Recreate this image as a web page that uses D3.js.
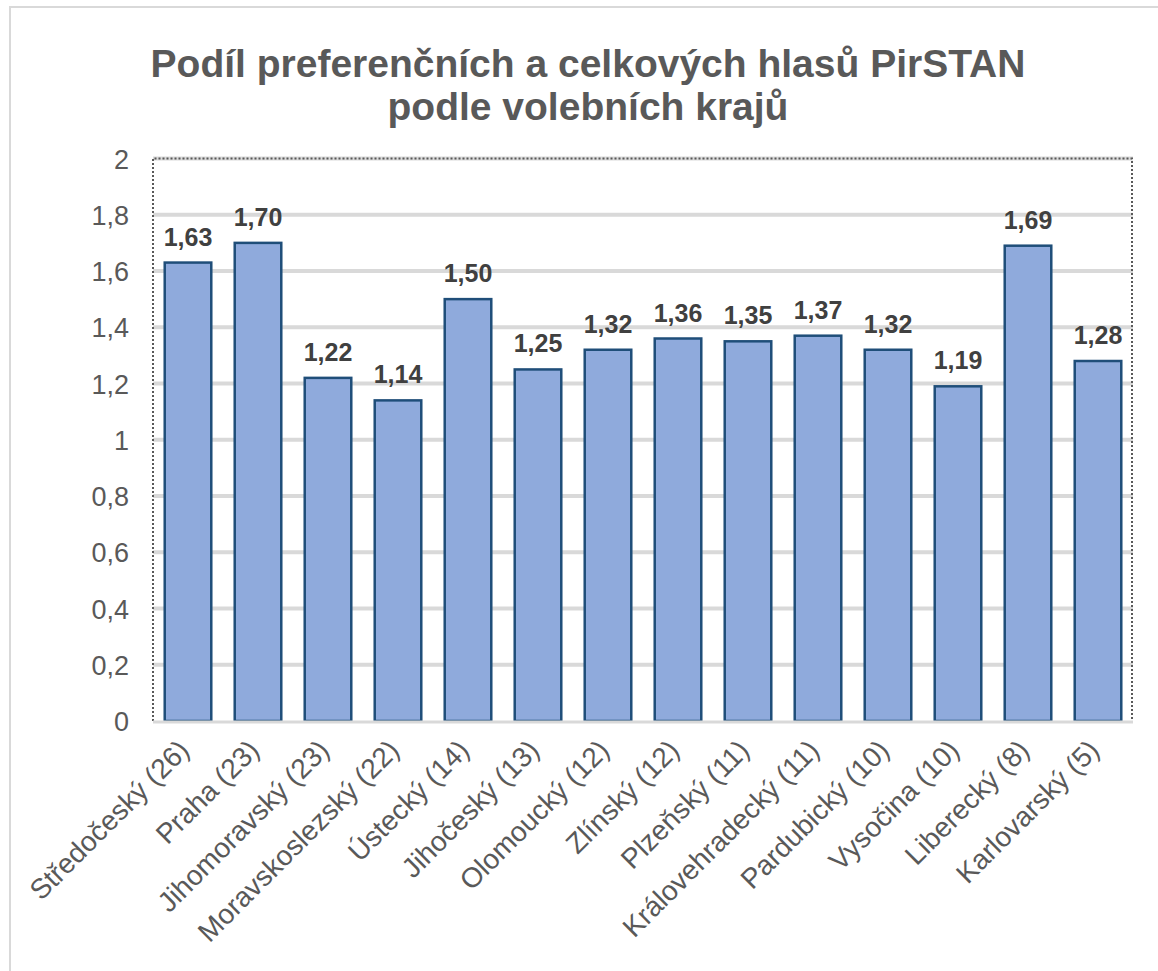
<!DOCTYPE html>
<html>
<head>
<meta charset="utf-8">
<script src="https://cdn.jsdelivr.net/npm/d3@7"></script>
<style>
  body { margin: 0; background: #fff; }
  svg { display: block; }
</style>
</head>
<body>
<svg id="chart"></svg>
<script>
// data
var regions = ["Středočeský (26)", "Praha (23)", "Jihomoravský (23)", "Moravskoslezský (22)",
  "Ústecký (14)", "Jihočeský (13)", "Olomoucký (12)", "Zlínský (12)", "Plzeňský (11)",
  "Královehradecký (11)", "Pardubický (10)", "Vysočina (10)", "Liberecký (8)", "Karlovarský (5)"]
var ratios = [1.63, 1.70, 1.22, 1.14, 1.50, 1.25, 1.32, 1.36, 1.35, 1.37, 1.32, 1.19, 1.69, 1.28]
var yTicks = [0, 0.2, 0.4, 0.6, 0.8, 1, 1.2, 1.4, 1.6, 1.8, 2]
var titleLines = ["Podíl preferenčních a celkových hlasů PirSTAN", "podle volebních krajů"]

var width = 1158
var height = 971
var plot = {left: 153, right: 1133, top: 158.5, bottom: 721}
var font = "'Liberation Sans', Arial, sans-serif"

var commaFmt = function(v, dec){
    return d3.format("." + dec + "f")(v).replace(".", ",")
}

var svg = d3.select("#chart")
    .attr("width", width)
    .attr("height", height)

// outer chart border
svg.append("rect")
    .attr("x", 10).attr("y", 7)
    .attr("width", width + 20).attr("height", height + 20)
    .attr("fill", "none")
    .attr("stroke", "#d9d9d9")
    .attr("stroke-width", 2)

// title
svg.append("g").selectAll("text")
    .data(titleLines)
    .enter()
    .append("text")
    .attr("x", 588)
    .attr("y", (d, i) => 77 + i * 43)
    .attr("text-anchor", "middle")
    .attr("font-family", font)
    .attr("font-weight", "bold")
    .attr("font-size", 39)
    .attr("fill", "#595959")
    .text(d => d)

var x = d3.scaleBand()
    .domain(regions)
    .range([plot.left, plot.right])
    .paddingInner(0.335)
    .paddingOuter(0.1675)

var y = d3.scaleLinear()
    .domain([0, 2])
    .range([plot.bottom, plot.top])

// gridlines
svg.append("g").selectAll("line")
    .data(yTicks.filter(d => d > 0))
    .enter()
    .append("line")
    .attr("x1", plot.left).attr("x2", plot.right)
    .attr("y1", d => y(d)).attr("y2", d => y(d))
    .attr("stroke", "#d9d9d9")
    .attr("stroke-width", 4)

// y axis labels
var yAxis = d3.axisLeft(y)
    .tickValues(yTicks)
    .tickSize(0)
    .tickPadding(24)
    .tickFormat(d => d === 0 || d === 1 || d === 2 ? String(d) : commaFmt(d, 1))

svg.append("g")
    .attr("transform", "translate(" + plot.left + ",0)")
    .call(yAxis)
    .call(g => g.select(".domain").remove())
    .selectAll("text")
    .attr("font-family", font)
    .attr("font-size", 27)
    .attr("fill", "#595959")
    .attr("dy", "0.36em")

// dotted plot border
svg.append("path")
    .attr("d", "M" + plot.left + "," + plot.bottom + "V" + plot.top + "H" + (plot.right - 1) + "V" + plot.bottom)
    .attr("fill", "none")
    .attr("stroke", "#595959")
    .attr("stroke-width", 2)
    .attr("stroke-dasharray", "2,2")

// bars
svg.append("g").selectAll("rect")
    .data(ratios)
    .enter()
    .append("rect")
    .attr("x", (d, i) => x(regions[i]))
    .attr("y", d => y(d))
    .attr("width", x.bandwidth())
    .attr("height", d => y(0) - y(d))
    .attr("fill", "#8faadc")
    .attr("stroke", "#1f4e79")
    .attr("stroke-width", 2.5)

// x axis baseline
svg.append("line")
    .attr("x1", plot.left).attr("x2", plot.right)
    .attr("y1", y(0) + 1).attr("y2", y(0) + 1)
    .attr("stroke", "#d9d9d9")
    .attr("stroke-width", 3)

// value labels
svg.append("g").selectAll("text")
    .data(ratios)
    .enter()
    .append("text")
    .attr("x", (d, i) => x(regions[i]) + x.bandwidth() / 2)
    .attr("y", d => y(d) - 17)
    .attr("text-anchor", "middle")
    .attr("font-family", font)
    .attr("font-weight", "bold")
    .attr("font-size", 25)
    .attr("fill", "#404040")
    .text(d => commaFmt(d, 2))

// category labels
svg.append("g").selectAll("text")
    .data(regions)
    .enter()
    .append("text")
    .attr("transform", d => "translate(" + (x(d) + x.bandwidth() / 2 - 4) + "," + (plot.bottom + 24) + ") rotate(-45)")
    .attr("text-anchor", "end")
    .attr("dy", "0.35em")
    .attr("font-family", font)
    .attr("font-size", 28)
    .attr("fill", "#595959")
    .text(d => d)
</script>
</body>
</html>
